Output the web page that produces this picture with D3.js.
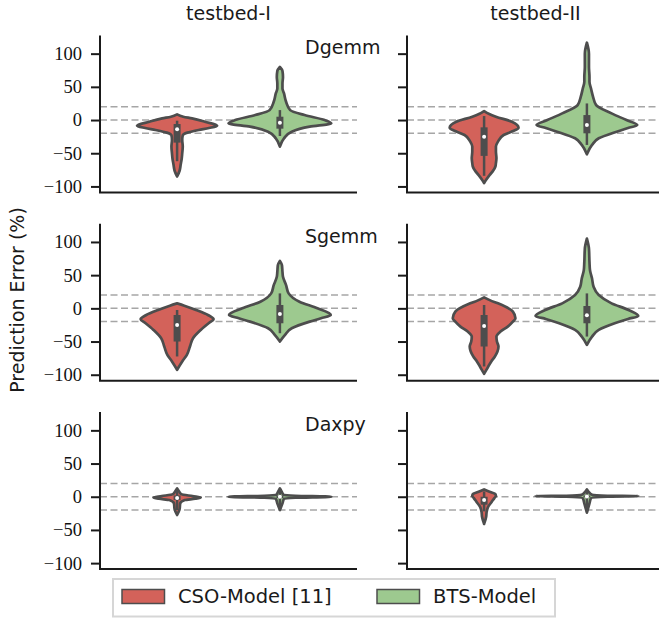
<!DOCTYPE html>
<html>
<head>
<meta charset="utf-8">
<script src="https://cdn.jsdelivr.net/npm/d3@7"></script>
<style>
  body { margin: 0; background: #fff; }
  .sans { font-family: "DejaVu Sans", sans-serif; }
  .tick text { font-family: "Liberation Serif", serif; font-size: 18.5px; fill: #111; }
</style>
</head>
<body>
<div id="violin-grid"></div>
<script>

// columns / rows / hue levels of the grid
var testbeds = ["testbed-I", "testbed-II"];
var kernels = ["Dgemm", "Sgemm", "Daxpy"];
var models = ["CSO-Model [11]", "BTS-Model"];
var modelColors = ["#d3625a", "#9dc98f"];
var yTicks = [-100, -50, 0, 50, 100];
var refLines = [20, 0, -20];

// violin outlines, [prediction error %, relative density]
// order: kernel -> testbed -> model
var dgemmProfiles = [
  [ // testbed-I
    [[8.5,0],[5,0.12],[2.5,0.29],[-2.5,0.54],[-8.5,0.78],[-12,0.62],[-15,0.42],[-19,0.2],[-23,0.11],[-30,0.1],[-40,0.11],[-50,0.1],[-58,0.09],[-67,0.07],[-76,0.05],[-85,0]],
    [[80,0],[74,0.05],[65,0.06],[55,0.05],[47.5,0.05],[40,0.08],[27.5,0.12],[15,0.2],[7.5,0.48],[0,0.87],[-5,1.0],[-10,0.58],[-17.5,0.23],[-27.5,0.08],[-40,0]]
  ],
  [ // testbed-II
    [[13.5,0],[9,0.1],[5,0.23],[-2.5,0.54],[-11.5,0.67],[-17,0.55],[-22.5,0.38],[-32.5,0.27],[-40,0.23],[-47.5,0.23],[-57.5,0.24],[-65,0.23],[-70,0.22],[-77,0.17],[-82.5,0.11],[-90,0.04],[-95,0]],
    [[116.5,0],[100,0.04],[80,0.04],[65,0.05],[57.5,0.05],[47.5,0.08],[35,0.12],[22.5,0.18],[10,0.48],[0,0.77],[-7.5,0.98],[-12,0.8],[-17.5,0.58],[-27.5,0.23],[-37.5,0.1],[-51.5,0]]
  ]
];
var sgemmProfiles = [
  [
    [[7.5,0],[4,0.14],[-2.5,0.37],[-10,0.6],[-16.5,0.71],[-22,0.62],[-32.5,0.46],[-45,0.31],[-57.5,0.25],[-70,0.19],[-80,0.1],[-92.5,0]],
    [[71.5,0],[65,0.04],[55,0.05],[47.5,0.06],[35,0.12],[22.5,0.17],[10,0.38],[0,0.73],[-10,0.99],[-15,0.8],[-20,0.58],[-30,0.23],[-40,0.1],[-50,0]]
  ],
  [
    [[16.5,0],[12,0.12],[7.5,0.27],[-5,0.56],[-15,0.61],[-20,0.56],[-27.5,0.46],[-35,0.32],[-42.5,0.24],[-50,0.25],[-57.5,0.28],[-65,0.26],[-72.5,0.21],[-80,0.14],[-85,0.1],[-92,0.05],[-98.5,0]],
    [[105,0],[90,0.04],[70,0.05],[57.5,0.06],[45,0.1],[32.5,0.13],[20,0.23],[7.5,0.48],[-2.5,0.81],[-11.5,1.0],[-16,0.8],[-22.5,0.54],[-32.5,0.23],[-42.5,0.1],[-55,0]]
  ]
];
var daxpyProfiles = [
  [
    [[12.5,0],[8,0.04],[4,0.08],[1,0.3],[-1,0.46],[-3,0.35],[-5,0.15],[-10,0.06],[-18,0.05],[-27.5,0]],
    [[12.5,0],[7,0.04],[3,0.07],[1.5,0.3],[0,1.0],[-1.5,0.3],[-3,0.08],[-10,0.05],[-20,0]]
  ],
  [
    [[11,0],[7,0.12],[4,0.22],[1,0.23],[-2,0.2],[-7.5,0.15],[-15,0.08],[-22.5,0.05],[-30,0.04],[-41,0]],
    [[11,0],[6,0.05],[3,0.1],[1.5,0.4],[1,1.0],[0,0.4],[-2,0.08],[-10,0.05],[-24,0]]
  ]
];

// inner box: [low whisker, q1, median, q3, high whisker]
var dgemmBoxes = [
  [[-62, -34, -14, -6, -1], [-24, -13, -4, 5, 15]],
  [[-84, -54, -25, -11, 6], [-37.5, -20, -7.5, 7.5, 25]]
];
var sgemmBoxes = [
  [[-72.5, -50, -25, -10, -2.5], [-37.5, -22.5, -8.5, 5, 22.5]],
  [[-87.5, -57.5, -26.5, -10, 5], [-42.5, -22.5, -10.5, 3.5, 22.5]]
];
var daxpyBoxes = [
  [[-20, -5, -2, 2, 10], [-18, -2, 0, 2, 10]],
  [[-22, -12, -5, 0, 8], [-22, -1, 0.5, 2, 9]]
];

var profilesByKernel = [dgemmProfiles, sgemmProfiles, daxpyProfiles];
var boxesByKernel = [dgemmBoxes, sgemmBoxes, daxpyBoxes];

var width = 659, height = 620;
var panelW = 257, panelH = 157;
var colX = [100, 407];
var rowY = [35.4, 223.7, 412.1];
var outline = "#4d4d4d";

var svg = d3.select("#violin-grid").append("svg")
  .attr("width", width)
  .attr("height", height);

// shared scales -- every panel uses the same y (sharey)
var y = d3.scaleLinear().domain([-109, 127.5]).range([panelH, 0]);
var x = d3.scaleLinear().domain([-0.5, 0.5]).range([0, panelW]);
var hue = d3.scaleBand().domain(models).range([-0.4, 0.4]);
var halfW = d3.scaleLinear().domain([0, 1]).range([0, x(0.2) - x(0)]);

kernels.forEach(function(kernel, r){
  testbeds.forEach(function(tb, c){

    var g = svg.append("g")
      .attr("transform", "translate(" + colX[c] + "," + rowY[r] + ")");

    // dashed reference lines at +-20 and 0
    g.selectAll(".ref")
      .data(refLines)
      .enter()
      .append("line")
      .attr("x1", 0).attr("x2", panelW)
      .attr("y1", function(d){ return y(d); })
      .attr("y2", function(d){ return y(d); })
      .attr("stroke", "#a6a6a6")
      .attr("stroke-width", 1.5)
      .attr("stroke-dasharray", "7,3.5");

    models.forEach(function(m, k){
      var cx = x(hue(m) + hue.bandwidth() / 2);
      var profile = profilesByKernel[r][c][k];
      var box = boxesByKernel[r][c][k];

      var area = d3.area()
        .curve(d3.curveMonotoneY)
        .y(function(d){ return y(d[0]); })
        .x0(function(d){ return cx - halfW(d[1]); })
        .x1(function(d){ return cx + halfW(d[1]); });

      g.append("path")
        .datum(profile)
        .attr("d", area)
        .attr("fill", modelColors[k])
        .attr("stroke", outline)
        .attr("stroke-width", 2.7)
        .attr("stroke-linejoin", "round");

      // whiskers
      g.append("line")
        .attr("x1", cx).attr("x2", cx)
        .attr("y1", y(box[0])).attr("y2", y(box[4]))
        .attr("stroke", outline)
        .attr("stroke-width", 2.5);
      // interquartile box
      g.append("line")
        .attr("x1", cx).attr("x2", cx)
        .attr("y1", y(box[1])).attr("y2", y(box[3]))
        .attr("stroke", outline)
        .attr("stroke-width", 7);
      // median
      g.append("circle")
        .attr("cx", cx).attr("cy", y(box[2]))
        .attr("r", 2)
        .attr("fill", "#fff");
    }); // end models loop

    // left axis, labels only on the first column
    var yAxis = d3.axisLeft(y).tickValues(yTicks).tickSize(9).tickPadding(9);
    if (c > 0) yAxis.tickFormat("");
    var ax = g.append("g").call(yAxis);
    ax.select(".domain").remove();
    ax.selectAll(".tick line").attr("stroke", "#1a1a1a").attr("stroke-width", 2);

    // despined frame: only left and bottom
    g.append("line")
      .attr("x1", 0).attr("x2", 0).attr("y1", 0).attr("y2", panelH)
      .attr("stroke", "#1a1a1a").attr("stroke-width", 2);
    g.append("line")
      .attr("x1", -1).attr("x2", panelW).attr("y1", panelH).attr("y2", panelH)
      .attr("stroke", "#1a1a1a").attr("stroke-width", 2);

    if (c == 0) {
      g.append("text")
        .attr("class", "sans")
        .attr("x", 205).attr("y", 19)
        .attr("font-size", 19)
        .attr("fill", "#1a1a1a")
        .text(kernel);
    }
    if (r == 0) {
      g.append("text")
        .attr("class", "sans")
        .attr("x", panelW / 2).attr("y", 20 - rowY[0])
        .attr("text-anchor", "middle")
        .attr("font-size", 19)
        .attr("fill", "#1a1a1a")
        .text(tb);
    }
  }); // end testbeds loop
}); // end kernels loop

// y label
svg.append("text")
  .attr("class", "sans")
  .attr("transform", "translate(24," + 300 + ") rotate(-90)")
  .attr("text-anchor", "middle")
  .attr("font-size", 19)
  .attr("fill", "#1a1a1a")
  .text("Prediction Error (%)");

// legend
var legend = svg.append("g").attr("transform", "translate(113,579)");
legend.append("rect")
  .attr("width", 442).attr("height", 37.5)
  .attr("fill", "#fff")
  .attr("stroke", "#d6d6d6")
  .attr("stroke-width", 2);

var legendX = [9, 264];
models.forEach(function(m, k){
  var item = legend.append("g").attr("transform", "translate(" + legendX[k] + ",0)");
  item.append("rect")
    .attr("x", 0).attr("y", 10.5)
    .attr("width", 42.5).attr("height", 14)
    .attr("fill", modelColors[k])
    .attr("stroke", outline)
    .attr("stroke-width", 1.5);
  item.append("text")
    .attr("class", "sans")
    .attr("x", 56).attr("y", 24)
    .attr("font-size", 19.5)
    .attr("fill", "#1a1a1a")
    .text(m);
}); // end legend loop

</script>
</body>
</html>
